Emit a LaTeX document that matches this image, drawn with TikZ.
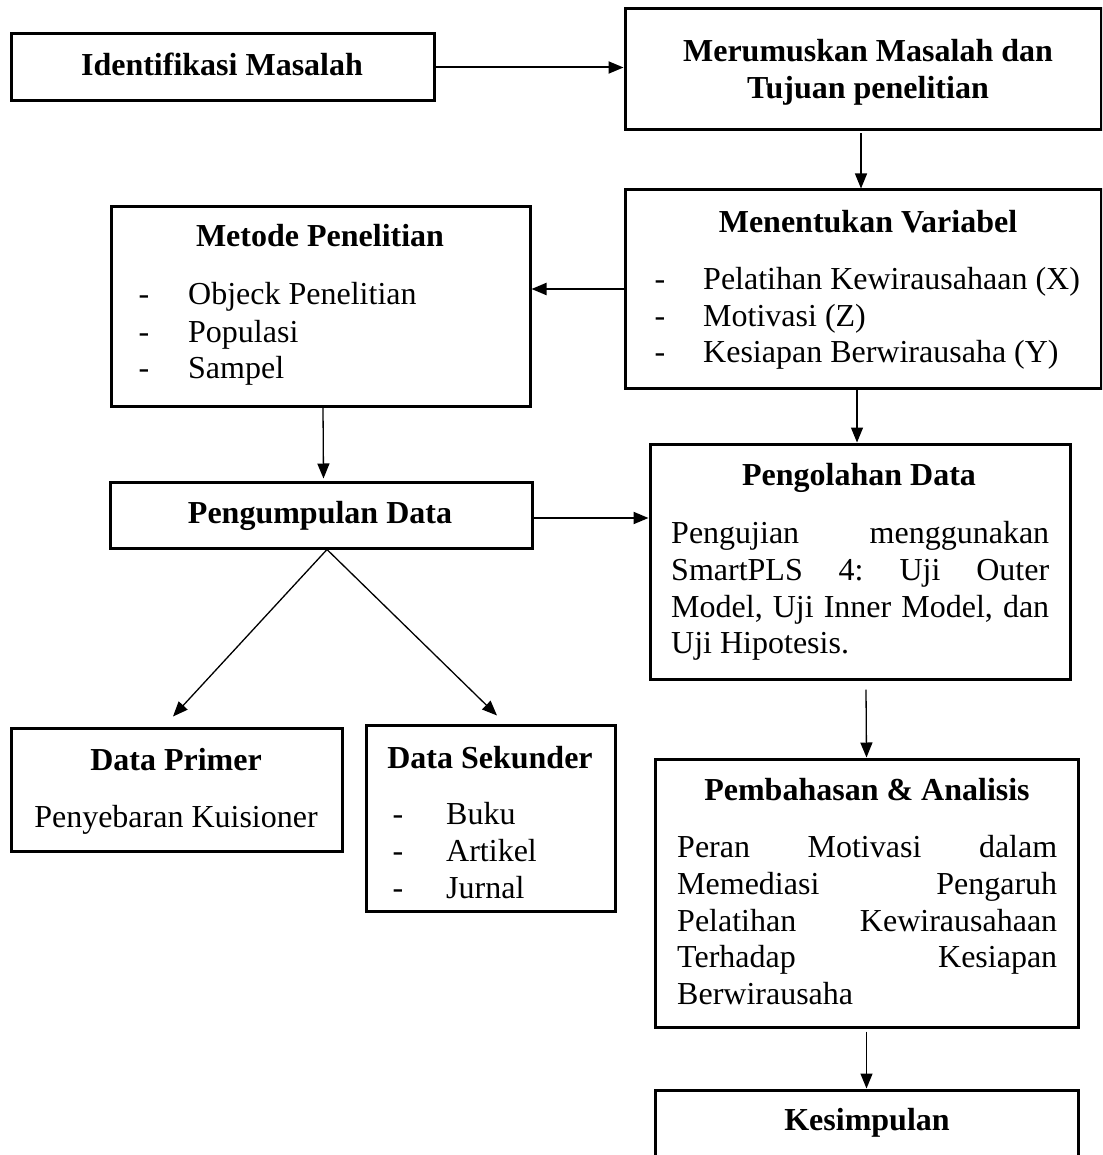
\documentclass[tikz,border=0pt]{standalone}
\usepackage{fontspec}
\setmainfont{Liberation Serif}
\usetikzlibrary{arrows.meta}
\begin{document}
\begin{tikzpicture}[x=1pt,y=-1pt,
  box/.style={draw, line width=3pt, inner sep=0pt},
  txt/.style={anchor=base, inner sep=0pt, font=\fontsize{32}{38}\selectfont},
  ttl/.style={anchor=base, inner sep=0pt, font=\fontsize{32}{38}\selectfont\bfseries},
  lft/.style={txt, anchor=base west},
  arr/.style={-{Triangle[length=15pt,width=12pt]}, line width=1.3pt},
  harr/.style={-{Triangle[length=15pt,width=12pt]}, line width=2pt}]
\useasboundingbox (0,0) rectangle (1102,1155);
\clip (0,0) rectangle (1102,1155);
\fill[white] (0,0) rectangle (1102,1155);

% boxes
\node[box, minimum width=423pt, minimum height=67pt]  (ident)  at (222.5,67.5) {};
\node[box, minimum width=476pt, minimum height=121pt] (merum)  at (863,69.5) {};
\node[box, minimum width=476pt, minimum height=198pt] (menent) at (863,289) {};
\node[box, minimum width=419pt, minimum height=199pt] (metode) at (320.5,306.5) {};
\node[box, minimum width=422pt, minimum height=66pt]  (pengum) at (321,515) {};
\node[box, minimum width=420pt, minimum height=235pt] (pengol) at (860,561.5) {};
\node[box, minimum width=331pt, minimum height=123pt] (primer) at (176.5,789.5) {};
\node[box, minimum width=249pt, minimum height=186pt] (sekun)  at (490.5,818) {};
\node[box, minimum width=423pt, minimum height=268pt] (bahas)  at (866.5,893) {};
\node[box, minimum width=423pt, minimum height=85pt]  (kesim)  at (866.5,1132.5) {};

% connectors
\draw[harr] (ident.east) -- (ident.east -| merum.west);
\draw[arr] ([xshift=-2pt,yshift=-2pt]merum.south) -- ([xshift=-2pt]menent.north);
\draw[harr] (menent.west) -- (menent.west -| metode.east);
\draw[arr] ([xshift=2.5pt]metode.south) -- ([xshift=2.5pt,yshift=2pt]pengum.north);
\draw[harr] ([yshift=-3pt]pengum.east) -- ([yshift=-3pt]pengum.east -| pengol.west);
\draw[arr] ([xshift=-6pt]menent.south) -- ([xshift=-6pt]menent.south |- pengol.north);
\draw[arr] ([xshift=6pt]pengum.south) -- ([xshift=-3.5pt,yshift=10pt]primer.north);
\draw[arr] ([xshift=6pt]pengum.south) -- ([xshift=6.5pt,yshift=8pt]sekun.north);
\draw[arr] ([xshift=6pt,yshift=-9pt]pengol.south) -- (bahas.north);
\draw[arr] ([yshift=-3pt]bahas.south) -- (kesim.north);

% texts
\node[ttl] (t1) at (222,76) {Identifikasi Masalah};
\node[ttl] (t2a) at (868,62) {Merumuskan Masalah dan};
\node[ttl] (t2b) at (868,99) {Tujuan penelitian};

\node[ttl] (t3) at (868,233) {Menentukan Variabel};
\node[txt] (d3a) at (660,290) {-};
\node[txt] (d3b) at (660,326) {-};
\node[txt] (d3c) at (660,362) {-};
\node[lft] (i3a) at (703,290) {Pelatihan Kewirausahaan (X)};
\node[lft] (i3b) at (703,326) {Motivasi (Z)};
\node[lft] (i3c) at (703,362) {Kesiapan Berwirausaha (Y)};

\node[ttl] (t4) at (320,247) {Metode Penelitian};
\node[txt] (d4a) at (144,305) {-};
\node[txt] (d4b) at (144,342) {-};
\node[txt] (d4c) at (144,378) {-};
\node[lft] (i4a) at (188,305) {Objeck Penelitian};
\node[lft] (i4b) at (188,342) {Populasi};
\node[lft] (i4c) at (188,378) {Sampel};

\node[ttl] (t5) at (320,523) {Pengumpulan Data};

\node[ttl] (t6) at (859,485) {Pengolahan Data};
\node[lft] (b6a) at (671,543) {\makebox[378pt][l]{Pengujian\hfill menggunakan}};
\node[lft] (b6b) at (671,580) {\makebox[378pt][l]{SmartPLS\hfill 4:\hfill Uji\hfill Outer}};
\node[lft] (b6c) at (671,617) {\makebox[378pt][l]{Model,\hfill Uji\hfill Inner\hfill Model,\hfill dan}};
\node[lft] (b6d) at (671,653) {Uji Hipotesis.};

\node[ttl] (t7) at (176,770) {Data Primer};
\node[txt] (b7) at (176,827) {Penyebaran Kuisioner};

\node[ttl] (t8) at (490,768) {Data Sekunder};
\node[txt] (d8a) at (398,824) {-};
\node[txt] (d8b) at (398,861) {-};
\node[txt] (d8c) at (398,898) {-};
\node[lft] (i8a) at (446,824) {Buku};
\node[lft] (i8b) at (446,861) {Artikel};
\node[lft] (i8c) at (446,898) {Jurnal};

\node[ttl] (t9) at (867,800) {Pembahasan \& Analisis};
\node[lft] (b9a) at (677,857) {\makebox[380pt][l]{Peran\hfill Motivasi\hfill dalam}};
\node[lft] (b9b) at (677,894) {\makebox[380pt][l]{Memediasi\hfill Pengaruh}};
\node[lft] (b9c) at (677,931) {\makebox[380pt][l]{Pelatihan\hfill Kewirausahaan}};
\node[lft] (b9d) at (677,967) {\makebox[380pt][l]{Terhadap\hfill Kesiapan}};
\node[lft] (b9e) at (677,1004) {Berwirausaha};

\node[ttl] (t10) at (867,1130) {Kesimpulan};
\end{tikzpicture}
\end{document}
